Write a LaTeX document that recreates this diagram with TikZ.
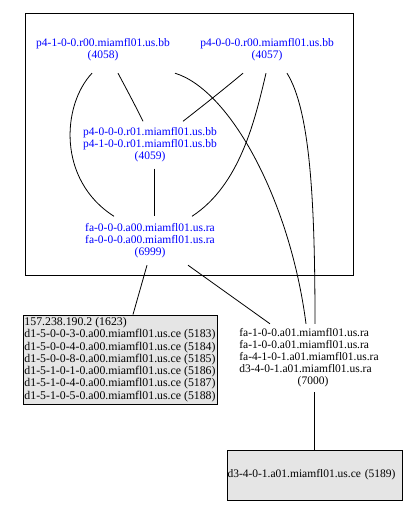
\documentclass[tikz,border=0pt]{standalone}
\usepackage{fontspec}
\setmainfont{Liberation Serif}
\definecolor{nodeblue}{RGB}{0,0,255}
\definecolor{boxgray}{RGB}{229,229,229}
\tikzset{
  gfont/.style={font=\fontsize{11.5}{12}\selectfont},
  blabel/.style={gfont, text=nodeblue, align=center, inner sep=0pt, minimum width=140pt},
  klabel/.style={gfont, text=black, inner sep=0pt},
  edge/.style={draw=black, line width=0.8pt},
  graybox/.style={gfont, draw=black, line width=1pt, fill=boxgray, align=left, inner ysep=0pt},
  clusterbox/.style={draw=black, line width=1pt, inner sep=0pt}
}
\begin{document}
\begin{tikzpicture}[x=1pt,y=-1pt]
\useasboundingbox (0,0) rectangle (414,513);
\fill[white] (0,0) rectangle (414,513);
\node[clusterbox, minimum width=328pt, minimum height=261pt] (cluster) at (189,144.5) {};

\node[blabel, minimum height=46pt] (n4058) at (103,50) {p4-1-0-0.r00.miamfl01.us.bb\\(4058)};
\node[blabel, minimum height=46pt] (n4057) at (267,50) {p4-0-0-0.r00.miamfl01.us.bb\\(4057)};
\node[blabel, minimum height=47pt] (n4059) at (150,145) {p4-0-0-0.r01.miamfl01.us.bb\\p4-1-0-0.r01.miamfl01.us.bb\\(4059)};
\node[blabel, minimum height=48.5pt] (n6999) at (150,240.75) {fa-0-0-0.a00.miamfl01.us.ra\\fa-0-0-0.a00.miamfl01.us.ra\\(6999)};

\node[klabel, minimum height=68pt, minimum width=140pt] (n7000) at (309,358) {\begin{tabular}{@{}l@{}}fa-1-0-0.a01.miamfl01.us.ra\\fa-1-0-0.a01.miamfl01.us.ra\\fa-4-1-0-1.a01.miamfl01.us.ra\\d3-4-0-1.a01.miamfl01.us.ra\\\multicolumn{1}{@{}c@{}}{\hspace*{8pt}(7000)}\end{tabular}};

\node[graybox, font=\fontsize{11.8}{12.3}\selectfont, minimum width=194pt, minimum height=89pt, inner xsep=1pt] (n1623) at (120,359.5) {157.238.190.2 (1623)\\d1-5-0-0-3-0.a00.miamfl01.us.ce (5183)\\d1-5-0-0-4-0.a00.miamfl01.us.ce (5184)\\d1-5-0-0-8-0.a00.miamfl01.us.ce (5185)\\d1-5-1-0-1-0.a00.miamfl01.us.ce (5186)\\d1-5-1-0-4-0.a00.miamfl01.us.ce (5187)\\d1-5-1-0-5-0.a00.miamfl01.us.ce (5188)};

\node[graybox, minimum width=175pt, minimum height=50pt, text width=174pt, inner xsep=0.5pt] (n5189) at (314.5,475) {d3-4-0-1.a01.miamfl01.us.ce (5189)};

% edges
\draw[edge] ([xshift=15pt]n4058.south) .. controls (127,90) and (135,105) .. ([xshift=-7pt]n4059.north);
\draw[edge] ([xshift=-11pt]n4058.south) .. controls (62,105) and (57,180) .. ([xshift=-36pt]n6999.north);
\draw[edge] ([xshift=72pt]n4058.south) .. controls (230,90) and (290,200) .. ([xshift=-3pt]n7000.north);
\draw[edge] ([xshift=-24pt]n4057.south) .. controls (223,90) and (200,108) .. ([xshift=33pt]n4059.north);
\draw[edge] ([xshift=-1pt]n4057.south) .. controls (255,120) and (240,185) .. ([xshift=42pt]n6999.north);
\draw[edge] ([xshift=20pt]n4057.south) .. controls (310,110) and (315,200) .. ([xshift=6pt]n7000.north);
\draw[edge] ([xshift=4pt]n4059.south) -- ([xshift=4pt]n6999.north);
\draw[edge] ([xshift=38pt]n6999.south) -- ([xshift=-39pt]n7000.north);
\draw[edge] ([xshift=-3pt]n6999.south) -- ([xshift=13pt]n1623.north);
\draw[edge] ([xshift=5pt]n7000.south) -- ([xshift=-0.5pt]n5189.north);
\end{tikzpicture}
\end{document}
